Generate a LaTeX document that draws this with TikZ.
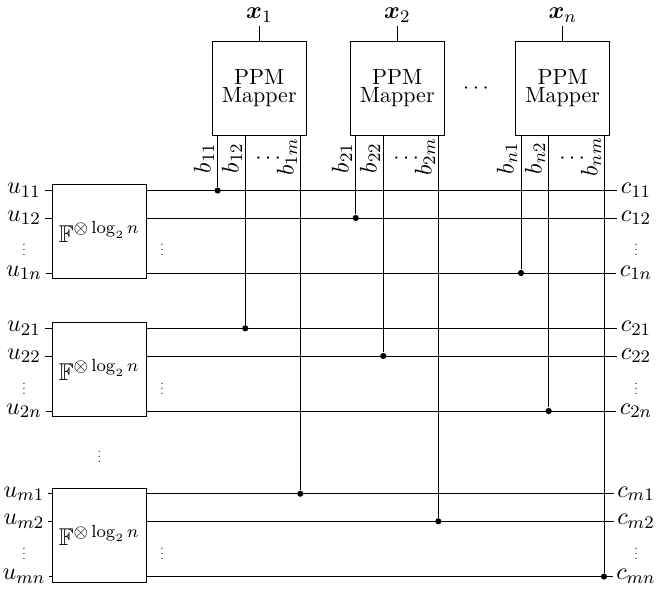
\documentclass[tikz,border=0pt]{standalone}
\usepackage{amsmath,amssymb}
\usepackage{tikz}
\usetikzlibrary{positioning}
\newcommand{\lbl}{\fontsize{11}{13}\selectfont}
\newcommand{\tinyvdots}{\scalebox{0.55}{$\vdots$}}

\begin{document}
\begin{tikzpicture}[
    x=0.4545pt, y=-0.4545pt,
    mapper/.style={draw, minimum width=42.7pt, minimum height=42.7pt, inner sep=0pt, align=center, font={\fontsize{10}{8.3}\selectfont}},
    encoder/.style={draw, minimum width=42.7pt, minimum height=42.7pt, inner sep=0pt, align=center, font=\lbl},
    sig/.style={inner sep=1.5pt, font=\lbl},
    bitlabel/.style={rotate=90, inner sep=0pt, font=\lbl},
    dot/.style={circle, fill=black, inner sep=0pt, minimum size=2.8pt},
    dotsnode/.style={inner sep=0pt}
]
    \useasboundingbox (0,0) rectangle (656,592);

    % === PPM mappers (top) ===
    \node[mapper] (map1) at (259.3, 88) {PPM\\Mapper};
    \node[mapper] (map2) at (397.3, 88) {PPM\\Mapper};
    \node[mapper] (mapn) at (562.7, 88) {PPM\\Mapper};
    \node (mapdots) at (477.7, 89) {$\cdots$};

    \node[sig] (x1) at (259.3, 15) {$\boldsymbol{x}_1$};
    \node[sig] (x2) at (397.3, 15) {$\boldsymbol{x}_2$};
    \node[sig] (xn) at (562.7, 15) {$\boldsymbol{x}_n$};
    \draw (x1) -- (map1);
    \draw (x2) -- (map2);
    \draw (xn) -- (mapn);

    % === Encoders (left) ===
    \node[encoder] (enc1) at (99.3, 231.8) {$\mathbb{F}^{\otimes \log_2 n}$};
    \node[encoder] (enc2) at (99.3, 369.8) {$\mathbb{F}^{\otimes \log_2 n}$};
    \node[encoder] (encm) at (99.3, 535.3) {$\mathbb{F}^{\otimes \log_2 n}$};
    \node[dotsnode] (encdots) at (99.3, 453.5) {\tinyvdots};

    % Inputs
    \node[sig] (u11) at (24, 190.5) {$u_{11}$};
    \node[sig] (u12) at (24, 218) {$u_{12}$};
    \node[dotsnode] (udots1) at (24, 246.5) {\tinyvdots};
    \node[sig] (u1n) at (24, 273) {$u_{1n}$};
    \node[sig] (u21) at (24, 328.3) {$u_{21}$};
    \node[sig] (u22) at (24, 356) {$u_{22}$};
    \node[dotsnode] (udots2) at (24, 385) {\tinyvdots};
    \node[sig] (u2n) at (24, 411) {$u_{2n}$};
    \node[sig] (um1) at (24, 493.7) {$u_{m1}$};
    \node[sig] (um2) at (24, 521.3) {$u_{m2}$};
    \node[dotsnode] (udots3) at (24, 550.5) {\tinyvdots};
    \node[sig] (umn) at (24, 576.5) {$u_{mn}$};

    % Outputs
    \node[sig] (c11) at (636, 190.5) {$c_{11}$};
    \node[sig] (c12) at (636, 218) {$c_{12}$};
    \node[dotsnode] (cdots1) at (636, 246.5) {\tinyvdots};
    \node[sig] (c1n) at (636, 273) {$c_{1n}$};
    \node[sig] (c21) at (636, 328.3) {$c_{21}$};
    \node[sig] (c22) at (636, 356) {$c_{22}$};
    \node[dotsnode] (cdots2) at (636, 385) {\tinyvdots};
    \node[sig] (c2n) at (636, 411) {$c_{2n}$};
    \node[sig] (cm1) at (636, 493.7) {$c_{m1}$};
    \node[sig] (cm2) at (636, 521.3) {$c_{m2}$};
    \node[dotsnode] (cdots3) at (636, 550.5) {\tinyvdots};
    \node[sig] (cmn) at (636, 576.5) {$c_{mn}$};

    \node[dotsnode] (rdots1) at (162, 246.5) {\tinyvdots};
    \node[dotsnode] (rdots2) at (162, 385) {\tinyvdots};
    \node[dotsnode] (rdots3) at (162, 550.5) {\tinyvdots};

    \draw (u11) -- (u11 -| enc1.west);
    \draw (u12) -- (u12 -| enc1.west);
    \draw (u1n) -- (u1n -| enc1.west);
    \draw (u21) -- (u21 -| enc2.west);
    \draw (u22) -- (u22 -| enc2.west);
    \draw (u2n) -- (u2n -| enc2.west);
    \draw (um1) -- (um1 -| encm.west);
    \draw (um2) -- (um2 -| encm.west);
    \draw (umn) -- (umn -| encm.west);

    \draw (c11 -| enc1.east) -- (c11);
    \draw (c12 -| enc1.east) -- (c12);
    \draw (c1n -| enc1.east) -- (c1n);
    \draw (c21 -| enc2.east) -- (c21);
    \draw (c22 -| enc2.east) -- (c22);
    \draw (c2n -| enc2.east) -- (c2n);
    \draw (cm1 -| encm.east) -- (cm1);
    \draw (cm2 -| encm.east) -- (cm2);
    \draw (cmn -| encm.east) -- (cmn);

    % === Mapper bits onto codeword lines ===
    \node[dot] (d11) at (217.7, 190.5) {};
    \node[dot] (d12) at (245.3, 328.3) {};
    \node[dot] (d1m) at (300.3, 493.7) {};
    \node[dot] (d21) at (355.7, 218) {};
    \node[dot] (d22) at (383.3, 356) {};
    \node[dot] (d2m) at (438.3, 521.3) {};
    \node[dot] (dn1) at (521, 273) {};
    \node[dot] (dn2) at (548.7, 411) {};
    \node[dot] (dnm) at (604, 576.5) {};

    \draw (d11 |- map1.south) -- (d11);
    \draw (d12 |- map1.south) -- (d12);
    \draw (d1m |- map1.south) -- (d1m);
    \draw (d21 |- map2.south) -- (d21);
    \draw (d22 |- map2.south) -- (d22);
    \draw (d2m |- map2.south) -- (d2m);
    \draw (dn1 |- mapn.south) -- (dn1);
    \draw (dn2 |- mapn.south) -- (dn2);
    \draw (dnm |- mapn.south) -- (dnm);

    % Bit labels
    \node[bitlabel] (b11) at (204, 158) {$b_{11}$};
    \node[bitlabel] (b12) at (232, 158) {$b_{12}$};
    \node[bitlabel] (b1m) at (287, 157) {$b_{1m}$};
    \node (bdots1) at (270, 159) {$\cdots$};
    \node[bitlabel] (b21) at (342, 158) {$b_{21}$};
    \node[bitlabel] (b22) at (370, 158) {$b_{22}$};
    \node[bitlabel] (b2m) at (425, 157) {$b_{2m}$};
    \node (bdots2) at (408, 159) {$\cdots$};
    \node[bitlabel] (bn1) at (507, 158) {$b_{n1}$};
    \node[bitlabel] (bn2) at (535, 158) {$b_{n2}$};
    \node[bitlabel] (bnm) at (591, 157) {$b_{nm}$};
    \node (bdots3) at (574, 159) {$\cdots$};
\end{tikzpicture}
\end{document}
